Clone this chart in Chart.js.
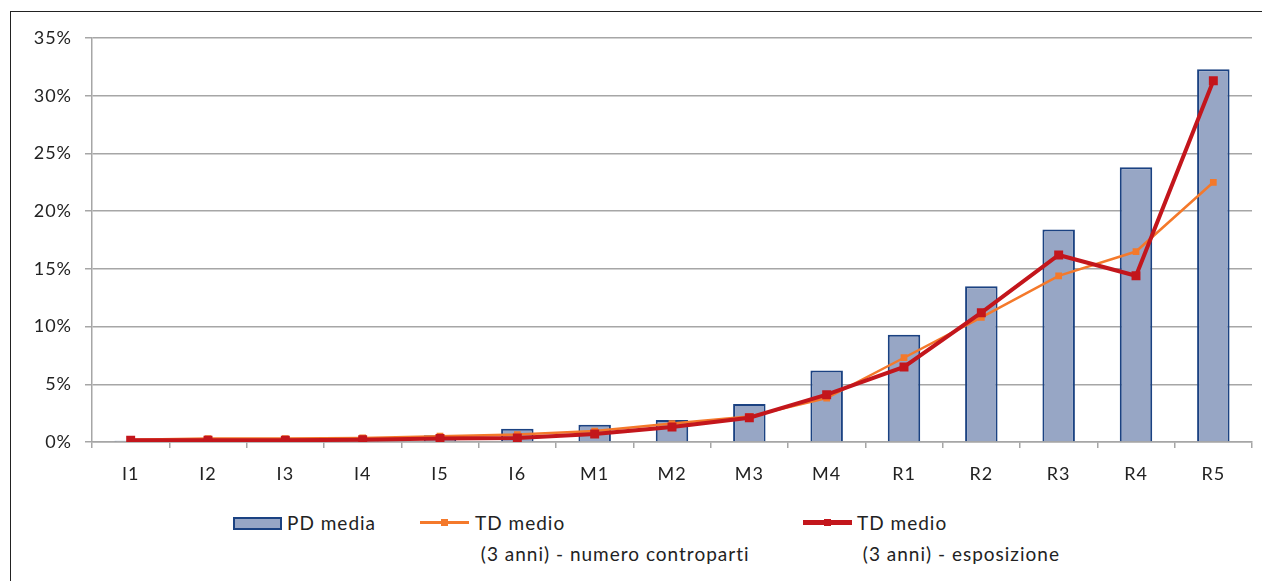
<!DOCTYPE html>
<html lang="it">
<head>
  <meta charset="UTF-8" />
  <title>PD media e TD medio per classe di rating</title>
  <script src="https://cdn.jsdelivr.net/npm/chart.js"></script>
  <style>
    body { margin: 0; background: #fff; font-family: Lato, "Open Sans", sans-serif; color: #222; }
    .frame { position: absolute; left: 10px; top: 11px; width: 1400px; height: 700px;
             border-left: 1.5px solid #222; border-top: 1.5px solid #222; }
    #wrap { position: absolute; left: 0; top: 0; width: 1262px; height: 500px; }
    .legend { position: absolute; top: 0; left: 0; font-size: 19px; letter-spacing: 1px; }
    .item { position: absolute; white-space: nowrap; line-height: 1; }
    .box { position: absolute; left: 233px; top: 517px; width: 45px; height: 9px;
           background: #97A6C5; border: 2px solid #1B4282; }
    .line { position: absolute; height: 0; }
    .line span { position: absolute; left: 50%; width: 7px; height: 7px; margin-left: -3.5px; }
  </style>
</head>
<body>
<div class="frame"></div>
<div id="wrap"><canvas id="chart" width="1262" height="500"></canvas></div>

<div class="legend">
  <div class="box"></div>
  <div class="item" style="left:287px; top:513px;">PD media</div>

  <div class="line" style="left:420px; top:521px; width:49px; border-top:3px solid #F4792B;">
    <span style="top:-5px; background:#F4792B;"></span>
  </div>
  <div class="item" style="left:475px; top:513px;">TD medio</div>
  <div class="item" style="left:475px; top:544px;">&nbsp;(3 anni) - numero controparti</div>

  <div class="line" style="left:803px; top:520px; width:49px; border-top:5px solid #C3161C;">
    <span style="top:-6px; background:#C3161C;"></span>
  </div>
  <div class="item" style="left:857px; top:513px;">TD medio</div>
  <div class="item" style="left:857px; top:544px;">&nbsp;(3 anni) - esposizione</div>
</div>

<script>
  // rating classes and values in %
  const classes = ["I1", "I2", "I3", "I4", "I5", "I6", "M1", "M2", "M3", "M4", "R1", "R2", "R3", "R4", "R5"];
  const pdMedia = [0.1, 0.1, 0.1, 0.4, 0.58, 1.15, 1.5, 1.9, 3.3, 6.2, 9.3, 13.5, 18.4, 23.8, 32.3];
  const tdNumero = [0.2, 0.3, 0.3, 0.35, 0.5, 0.65, 0.95, 1.6, 2.2, 3.8, 7.3, 10.8, 14.4, 16.5, 22.5];
  const tdEsposizione = [0.15, 0.15, 0.15, 0.2, 0.3, 0.35, 0.7, 1.3, 2.1, 4.1, 6.5, 11.2, 16.2, 14.4, 31.3];
  const yTicks = [0, 5, 10, 15, 20, 25, 30, 35];

  const gridColor = "#A6A6A6";
  const tickFont = { family: "Lato", size: 18 };

  // slightly wider tick text
  const spacing = {
    id: "spacing",
    beforeDraw: chart => { chart.ctx.letterSpacing = "1px"; }
  };

  new Chart(document.getElementById("chart"), {
    data: {
      labels: classes,
      datasets: [
        {
          type: "line",
          label: "TD medio (3 anni) - esposizione",
          data: tdEsposizione,
          borderColor: "#C3161C",
          backgroundColor: "#C3161C",
          borderWidth: 4,
          pointStyle: "rect",
          pointRadius: 3.5,
          order: 0
        },
        {
          type: "line",
          label: "TD medio (3 anni) - numero controparti",
          data: tdNumero,
          borderColor: "#F4792B",
          backgroundColor: "#F4792B",
          borderWidth: 2.5,
          pointStyle: "rect",
          pointRadius: 3,
          order: 1
        },
        {
          type: "bar",
          label: "PD media",
          data: pdMedia,
          backgroundColor: "#97A6C5",
          borderColor: "#1B4282",
          borderWidth: 2,
          barPercentage: 0.42,
          categoryPercentage: 1,
          order: 2
        }
      ]
    },
    options: {
      responsive: false,
      animation: false,
      layout: { padding: { left: 0, top: 38, right: 10, bottom: 0 } },
      plugins: { legend: { display: false }, tooltip: { enabled: false } },
      scales: {
        x: {
          grid: { offset: true, drawOnChartArea: false, color: gridColor, lineWidth: 1.5, tickLength: 6 },
          border: { color: gridColor, width: 1.5 },
          ticks: { color: "#222", font: tickFont, padding: 15 },
          afterFit: s => { s.height = 58; }
        },
        y: {
          min: 0,
          max: 35,
          afterBuildTicks: s => { s.ticks = yTicks.map(v => ({ value: v })); },
          grid: { color: gridColor, lineWidth: 1.5, tickLength: 7 },
          border: { color: gridColor, width: 1.5 },
          ticks: { color: "#222", font: tickFont, padding: 13, callback: v => v + "%" },
          afterFit: s => { s.width = 92; }
        }
      }
    },
    plugins: [spacing]
  });
</script>
</body>
</html>
